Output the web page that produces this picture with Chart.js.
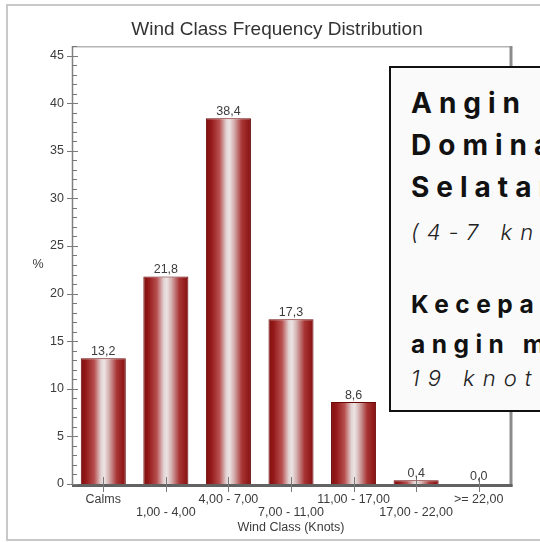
<!DOCTYPE html>
<html lang="id">
<head>
    <meta charset="UTF-8">
    <meta name="viewport" content="width=device-width, initial-scale=1.0">
    <title>Wind Class Frequency Distribution</title>
    <script src="https://cdn.jsdelivr.net/npm/chart.js"></script>
    <style>
        body {
            margin: 0;
            width: 540px;
            height: 543px;
            overflow: hidden;
            position: relative;
            background-color: #fff;
        }

        /* light grey frame of the chart picture */
        .frame {
            position: absolute;
            left: 6px;
            top: 4px;
            width: 600px;
            height: 537px;
            border: 2px solid #c8c8c8;
            box-sizing: border-box;
        }

        .chart-container {
            position: absolute;
            left: 0;
            top: 0;
            width: 540px;
            height: 543px;
        }

        /* note box on top of the chart */
        .note {
            position: absolute;
            left: 389px;
            top: 66px;
            width: 260px;
            height: 346px;
            box-sizing: border-box;
            border: 2px solid #111;
            background-color: #fafafa;
            font-family: Inter, "Noto Sans", sans-serif;
            color: #111;
            white-space: nowrap;
        }

        .note div {
            position: absolute;
            left: 20px;
        }

        .big {
            top: 14px;
            font-size: 28px;
            font-weight: 700;
            letter-spacing: 7px;
            line-height: 42px;
        }

        .mid {
            top: 216px;
            font-size: 24.5px;
            font-weight: 700;
            letter-spacing: 6.5px;
            line-height: 40px;
        }

        .it {
            font-size: 22px;
            font-weight: 300;
            font-style: italic;
            letter-spacing: 8px;
            line-height: 30px;
            color: #222;
        }

        .it1 { top: 149px; }
        .it2 { top: 295px; }
    </style>
</head>
<body>
    <div class="frame"></div>
    <div class="chart-container">
        <canvas id="windChart"></canvas>
    </div>
    <div class="note">
        <div class="big">Angin<br>Dominan<br>Selatan</div>
        <div class="it it1">(4-7 knot)</div>
        <div class="mid">Kecepatan<br>angin maks</div>
        <div class="it it2">19 knot</div>
    </div>

<script>
    const chartTitle = 'Wind Class Frequency Distribution';
    const xTitle = 'Wind Class (Knots)';
    const yTitle = '%';
    const windClasses = ['Calms', '1,00 - 4,00', '4,00 - 7,00', '7,00 - 11,00', '11,00 - 17,00', '17,00 - 22,00', '>= 22,00'];
    const frequency = [13.2, 21.8, 38.4, 17.3, 8.6, 0.4, 0.0];
    const yTickValues = [0, 5, 10, 15, 20, 25, 30, 35, 40, 45];
    const yMax = 46;

    const BAR_PCT = 0.72;
    const TEXT = '#3c3c3c';
    Chart.defaults.font.family = 'Arial, "Liberation Sans", sans-serif';

    const fmt = v => v.toFixed(1).replace('.', ',');

    // silver / dark red cylinder look of the bars
    function barFill(context) {
        const chart = context.chart;
        const x = chart.scales.x;
        if (!x || context.type !== 'data') return '#a02020';
        const cx = x.getPixelForValue(context.dataIndex);
        const half = (x.getPixelForValue(1) - x.getPixelForValue(0)) * BAR_PCT / 2;
        if (!isFinite(cx) || !isFinite(half)) return '#a02020'; // scale not laid out yet
        const g = chart.ctx.createLinearGradient(cx - half, 0, cx + half, 0);
        g.addColorStop(0, '#7f0d0d');
        g.addColorStop(0.12, '#951a1a');
        g.addColorStop(0.3, '#b85050');
        g.addColorStop(0.45, '#e2d2d2');
        g.addColorStop(0.52, '#ece4e4');
        g.addColorStop(0.62, '#d6b2b2');
        g.addColorStop(0.8, '#a83434');
        g.addColorStop(1, '#860f0f');
        return g;
    }

    function line(ctx, x1, y1, x2, y2) {
        ctx.beginPath();
        ctx.moveTo(x1, y1);
        ctx.lineTo(x2, y2);
        ctx.stroke();
    }

    // plot frame, tick marks, value labels, titles
    const decorations = {
        id: 'decorations',
        afterDatasetsDraw(chart) {
            const { ctx, chartArea: a, scales: { x, y } } = chart;
            ctx.save();

            ctx.lineWidth = 1.5;
            ctx.strokeStyle = '#b4b4b4';
            line(ctx, a.left, a.top + 0.75, a.right, a.top + 0.75);
            ctx.strokeStyle = '#808080';
            line(ctx, a.left + 0.5, a.top, a.left + 0.5, a.bottom);
            ctx.lineWidth = 3;
            ctx.strokeStyle = '#8c8c8c';
            line(ctx, a.right + 1, a.top, a.right + 1, a.bottom + 3);
            ctx.strokeStyle = '#626262';
            line(ctx, a.left, a.bottom + 1.5, a.right + 2.5, a.bottom + 1.5);

            ctx.lineWidth = 1;
            ctx.strokeStyle = '#7a7a7a';
            for (let v = 0; v <= yMax; v++) {
                const py = Math.round(y.getPixelForValue(v)) + 0.5;
                if (v % 5 === 0) line(ctx, a.left - 5, py, a.left + 6, py);
                else line(ctx, a.left, py, a.left + 5, py);
            }
            x.ticks.forEach((t, i) => {
                const px = Math.round(x.getPixelForTick(i)) + 0.5;
                line(ctx, px, a.bottom - 7, px, a.bottom + 8);
            });

            ctx.fillStyle = TEXT;
            ctx.font = '12.5px Arial, "Liberation Sans", sans-serif';
            ctx.textAlign = 'center';
            ctx.textBaseline = 'middle';
            chart.getDatasetMeta(0).data.forEach((bar, i) => {
                ctx.fillText(fmt(frequency[i]), bar.x, bar.y - 7);
            });
            ctx.fillText(yTitle, 38, (a.top + a.bottom) / 2);

            ctx.fillStyle = '#333';
            ctx.font = '19px Arial, "Liberation Sans", sans-serif';
            ctx.fillText(chartTitle, 277, 30);
            ctx.restore();
        }
    };

    new Chart(document.getElementById('windChart'), {
        type: 'bar',
        data: {
            labels: windClasses,
            datasets: [{
                data: frequency,
                backgroundColor: barFill,
                borderColor: '#6a0808',
                borderWidth: 1,
                barPercentage: BAR_PCT,
                categoryPercentage: 1
            }]
        },
        options: {
            responsive: true,
            maintainAspectRatio: false,
            animation: false,
            events: [],
            layout: { padding: { left: 0, top: 46, right: 30, bottom: 0 } },
            plugins: {
                legend: { display: false },
                tooltip: { enabled: false }
            },
            scales: {
                x: {
                    offset: true,
                    grid: { display: false, drawTicks: false },
                    border: { display: false },
                    ticks: {
                        autoSkip: false,
                        maxRotation: 0,
                        minRotation: 0,
                        padding: 8.5,
                        color: TEXT,
                        font: { size: 12.5, lineHeight: 1.05 },
                        // staggered labels: every second one on the lower row
                        callback: function (v, i) {
                            const lbl = this.getLabelForValue(v);
                            return i % 2 === 0 ? [lbl, ''] : ['', lbl];
                        }
                    },
                    title: {
                        display: true,
                        text: xTitle,
                        color: TEXT,
                        font: { size: 12.5 },
                        padding: { top: 0, bottom: 7.5 }
                    },
                    afterFit: s => { s.height = 59; }
                },
                y: {
                    min: 0,
                    max: yMax,
                    bounds: 'data',
                    grid: { display: false, drawTicks: false },
                    border: { display: false },
                    afterBuildTicks: s => { s.ticks = yTickValues.map(v => ({ value: v })); },
                    ticks: { padding: 8, color: TEXT, font: { size: 12.5 } },
                    afterFit: s => { s.width = 72; }
                }
            }
        },
        plugins: [decorations]
    });
</script>
</body>
</html>
